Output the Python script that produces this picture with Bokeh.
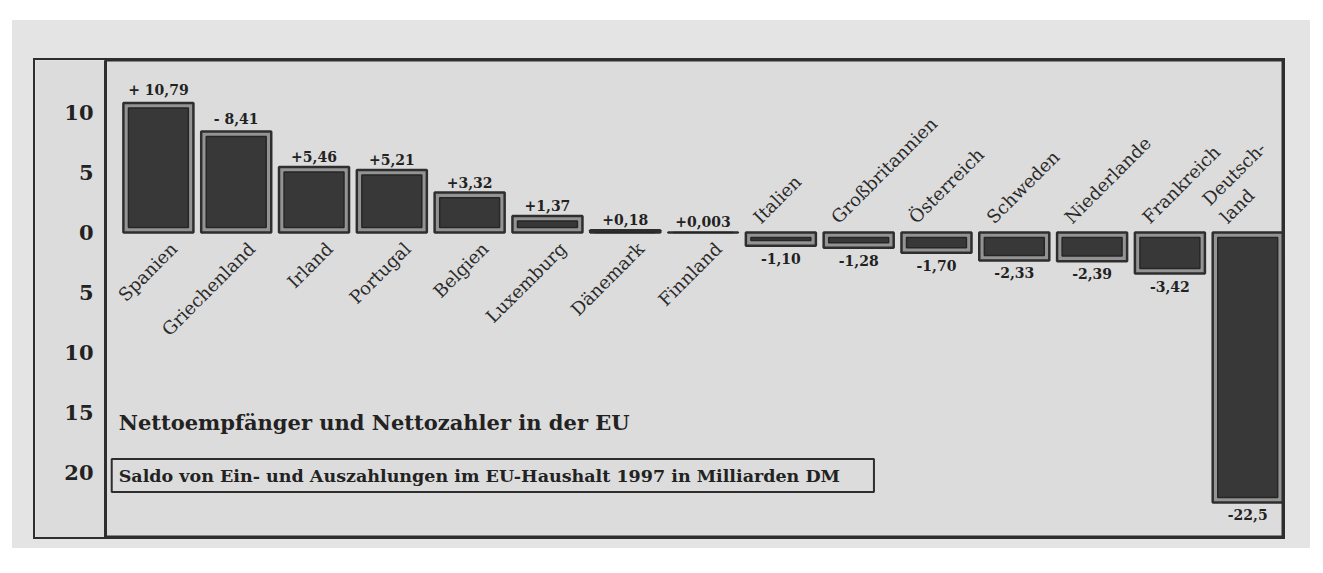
import numpy as np
from bokeh.plotting import figure
from bokeh.models import Range1d, ColumnDataSource, FixedTicker, Label, Spacer
from bokeh.layouts import column, row
from bokeh.core.properties import value
from bokeh.embed import file_html
from bokeh.resources import INLINE

# ---- data ----
countries = ["Spanien", "Griechenland", "Irland", "Portugal", "Belgien", "Luxemburg",
             "Dänemark", "Finnland", "Italien", "Großbritannien", "Österreich",
             "Schweden", "Niederlande", "Frankreich", "Deutsch-\nland"]
saldo = [10.79, 8.41, 5.46, 5.21, 3.32, 1.37, 0.18, 0.003,
         -1.10, -1.28, -1.70, -2.33, -2.39, -3.42, -22.5]
value_labels = ["+ 10,79", "- 8,41", "+5,46", "+5,21", "+3,32", "+1,37", "+0,18", "+0,003",
                "-1,10", "-1,28", "-1,70", "-2,33", "-2,39", "-3,42", "-22,5"]
y_ticks = [10, 5, 0, -5, -10, -15, -20]
y_tick_labels = ["10", "5", "0", "5", "10", "15", "20"]
title_text = "Nettoempfänger und Nettozahler in der EU"
subtitle_text = "Saldo von Ein- und Auszahlungen im EU-Haushalt 1997 in Milliarden DM"

SERIF = "DejaVu Serif"
DARK = "#2e2e2e"
BG = "#dcdcdc"

idx = np.arange(len(countries))
vals = np.array(saldo)
pos = vals >= 0

p = figure(width=1248, height=477, output_backend="svg", toolbar_location=None,
           x_range=Range1d(-0.68, 14.46), y_range=Range1d(-25.42, 14.33),
           min_border_left=70, min_border_right=0, min_border_top=0, min_border_bottom=0)
p.background_fill_color = BG
p.border_fill_color = BG
p.outline_line_color = DARK
p.outline_line_width = 2
p.xgrid.visible = False
p.ygrid.visible = False
p.xaxis.visible = False

ax = p.yaxis[0]
ax.ticker = FixedTicker(ticks=y_ticks)
ax.major_label_overrides = dict(zip(y_ticks, y_tick_labels))
ax.major_tick_line_color = None
ax.minor_tick_line_color = None
ax.axis_line_color = DARK
ax.axis_line_width = 3
ax.major_label_text_font = SERIF
ax.major_label_text_font_style = "bold"
ax.major_label_text_font_size = "21px"
ax.major_label_text_color = "#222222"
ax.major_label_standoff = 6

# bars: outer with light ring, inner dark body
inset = 0.42
inner_top = np.where(pos, np.maximum(vals - inset, inset), -inset)
inner_bot = np.where(pos, inset, np.minimum(vals + inset, -inset))
big = np.abs(vals) > 2 * inset
src = ColumnDataSource(dict(x=idx, top=vals, bottom=np.zeros_like(vals),
                            itop=np.where(big, inner_top, 0), ibot=np.where(big, inner_bot, 0)))
p.vbar(x="x", top="top", bottom="bottom", width=0.9, source=src,
       fill_color="#939393", line_color=DARK, line_width=2.5)
p.vbar(x="x", top="itop", bottom="ibot", width=0.77, source=src,
       fill_color="#383838", line_color="#262626", line_width=1.5)

# value labels
psrc = ColumnDataSource(dict(x=idx[pos], y=vals[pos], t=[value_labels[i] for i in idx[pos]]))
nsrc = ColumnDataSource(dict(x=idx[~pos], y=vals[~pos], t=[value_labels[i] for i in idx[~pos]]))
p.text(x="x", y="y", text="t", source=psrc, text_align="center", text_baseline="bottom",
       y_offset=-5, text_font=value(SERIF), text_font_style="bold", text_font_size="14px",
       text_color="#222222")
p.text(x="x", y="y", text="t", source=nsrc, text_align="center", text_baseline="top",
       y_offset=7, text_font=value(SERIF), text_font_style="bold", text_font_size="14px",
       text_color="#222222")

# category labels (rotated)
cpos = ColumnDataSource(dict(x=idx[pos] + 0.2, y=np.zeros(pos.sum()),
                             t=[countries[i] for i in idx[pos]]))
cneg = ColumnDataSource(dict(x=idx[~pos] - 0.22, y=np.zeros((~pos).sum()),
                             t=[countries[i] for i in idx[~pos]]))
p.text(x="x", y="y", text="t", source=cpos, angle=np.pi / 4, text_align="right",
       text_baseline="middle", y_offset=13, text_font=value(SERIF),
       text_font_size="18px", text_color="#2a2a2a")
p.text(x="x", y="y", text="t", source=cneg, angle=np.pi / 4, text_align="left",
       text_baseline="bottom", y_offset=-5, text_font=value(SERIF),
       text_font_size="18px", text_color="#2a2a2a")

# title and boxed subtitle
p.add_layout(Label(x=-0.51, y=-15.8, text=title_text, text_font=SERIF, text_font_style="bold",
                   text_font_size="21px", text_baseline="middle", text_color="#222222"))
p.add_layout(Label(x=-0.6, y=-20.25, text=subtitle_text, text_font=SERIF, text_font_style="bold",
                   text_font_size="17.5px", text_baseline="middle", text_color="#222222",
                   border_line_color=DARK, border_line_width=2, background_fill_color=BG,
                   padding=(7, 34, 7, 6)))

p.styles = {"outline": "2px solid #2e2e2e"}

layout = column(Spacer(height=40),
                row(Spacer(width=23), p, Spacer(width=27)),
                Spacer(height=11),
                styles={"background-color": "#e4e4e4", "margin-top": "20px",
                        "margin-left": "12px"})

open("out.html", "w").write(file_html(layout, INLINE))
